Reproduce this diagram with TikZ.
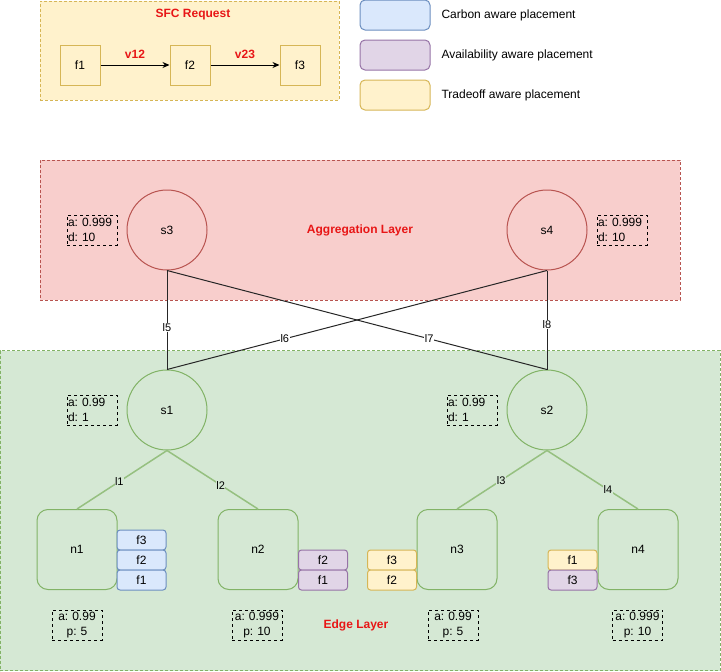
\documentclass[tikz,border=0pt]{standalone}
\usepackage{fontspec}
\setmainfont{Liberation Sans}
\usetikzlibrary{arrows.meta}
\definecolor{yfill}{HTML}{FFF2CC}\definecolor{ydraw}{HTML}{D6B656}
\definecolor{bfill}{HTML}{DAE8FC}\definecolor{bdraw}{HTML}{6C8EBF}
\definecolor{pfill}{HTML}{E1D5E7}\definecolor{pdraw}{HTML}{9673A6}
\definecolor{rfill}{HTML}{F8CECC}\definecolor{rdraw}{HTML}{B85450}
\definecolor{gfill}{HTML}{D5E8D4}\definecolor{gdraw}{HTML}{82B366}
\definecolor{gline}{RGB}{150,192,128}
\definecolor{titlered}{RGB}{232,22,22}
\tikzset{
  txt/.style={font=\fontsize{12}{15}\selectfont\frenchspacing},
  title/.style={font=\fontsize{12}{15}\selectfont\bfseries, text=titlered},
  layer/.style={draw, line width=0.8pt, dash pattern=on 3pt off 2pt},
  fbox/.style={txt, draw=ydraw, fill=yfill, line width=1pt, minimum width=40pt, minimum height=40pt, inner sep=0pt},
  legbox/.style={draw, line width=1pt, rounded corners=5pt, minimum width=70pt, minimum height=30pt, inner sep=0pt},
  sw/.style={txt, circle, line width=1pt, minimum size=80pt, inner sep=0pt},
  srv/.style={txt, draw=gdraw, fill=gfill, rounded corners=11pt, line width=1pt, minimum size=80pt, inner sep=0pt, anchor=south},
  vnf/.style={txt, draw, rounded corners=3pt, line width=1pt, minimum width=49pt, minimum height=20pt, inner sep=0pt},
  infol/.style={txt, draw, dashed, line width=0.9pt, text width=48pt, minimum height=30pt, inner sep=1pt, align=left},
  infoc/.style={txt, draw, dashed, line width=0.9pt, text width=48pt, minimum height=30pt, inner sep=1pt, align=center},
  aline/.style={line width=1pt, black!85},
  gl/.style={line width=1.5pt, gline},
  elab/.style={font=\fontsize{11}{13}\selectfont, text=black, inner sep=0.5pt},
}
\begin{document}
\begin{tikzpicture}[x=1pt,y=-1pt]
\useasboundingbox (0,0) rectangle (721,672);
% SFC request
\node[layer, draw=ydraw, fill=yfill, minimum width=299pt, minimum height=99pt, inner sep=0pt] (sfc) at (189.5,50.5) {};
\node[title] (sfct) at (193,15) {SFC Request};
\node[fbox] (f1) at (80,65) {f1};
\node[fbox] (f2) at (190,65) {f2};
\node[fbox] (f3) at (300,65) {f3};
\draw[line width=1pt, -{Stealth[length=7pt,width=6pt]}] (f1) -- node[title, above=3pt] {v12} (f2);
\draw[line width=1pt, -{Stealth[length=7pt,width=6pt]}] (f2) -- node[title, above=3pt] {v23} (f3);
% legend
\node[legbox, draw=bdraw, fill=bfill] (lg1) at (395,15) {};
\node[legbox, draw=pdraw, fill=pfill] (lg2) at (395,55) {};
\node[legbox, draw=ydraw, fill=yfill] (lg3) at (395,95) {};
\node[txt, anchor=west] (lt1) at (438,15) {Carbon aware placement};
\node[txt, anchor=west] (lt2) at (438,55) {Availability aware placement};
\node[txt, anchor=west] (lt3) at (438,95) {Tradeoff aware placement};
% layers
\node[layer, draw=gdraw, fill=gfill, minimum width=720pt, minimum height=320pt, inner sep=0pt] (edge) at (360,510.5) {};
\node[layer, draw=rdraw, fill=rfill, minimum width=640pt, minimum height=140pt, inner sep=0pt] (agg) at (360,230) {};
\node[title] (aggt) at (360,230) {Aggregation Layer};
\node[title] (edget) at (356,625) {Edge Layer};
% switches
\node[sw, draw=rdraw, fill=rfill] (s3) at (167,230) {s3};
\node[sw, draw=rdraw, fill=rfill] (s4) at (547,230) {s4};
\node[sw, draw=gdraw, fill=gfill] (s1) at (167,410) {s1};
\node[sw, draw=gdraw, fill=gfill] (s2) at (547,410) {s2};
\node[infol] (i3) at (92,230) {a: 0.999\\d: 10};
\node[infol] (i4) at (622,230) {a: 0.999\\d: 10};
\node[infol] (i1) at (92,410) {a: 0.99\\d: 1};
\node[infol] (i2) at (472,410) {a: 0.99\\d: 1};
% servers
\node[srv] (n1) at (77,590) {n1};
\node[srv] (n2) at (258,590) {n2};
\node[srv] (n3) at (457,590) {n3};
\node[srv] (n4) at (638,590) {n4};
\node[infoc] (in1) at (77,625) {a: 0.99\\p: 5};
\node[infoc] (in2) at (257,625) {a: 0.999\\p: 10};
\node[infoc] (in3) at (453,625) {a: 0.99\\p: 5};
\node[infoc] (in4) at (637.5,625) {a: 0.999\\p: 10};
% VNF stacks
\node[vnf, draw=bdraw, fill=bfill] (n1f3) at (141.5,540) {f3};
\node[vnf, draw=bdraw, fill=bfill] (n1f2) at (141.5,560) {f2};
\node[vnf, draw=bdraw, fill=bfill] (n1f1) at (141.5,580) {f1};
\node[vnf, draw=pdraw, fill=pfill] (n2f2) at (323,560) {f2};
\node[vnf, draw=pdraw, fill=pfill] (n2f1) at (323,580) {f1};
\node[vnf, draw=ydraw, fill=yfill] (n3f3) at (392,560) {f3};
\node[vnf, draw=ydraw, fill=yfill] (n3f2) at (392,580) {f2};
\node[vnf, draw=ydraw, fill=yfill] (n4f1) at (572.5,560) {f1};
\node[vnf, draw=pdraw, fill=pfill] (n4f3) at (572.5,580) {f3};
% aggregation links
\draw[aline] (s3.south) -- node[elab, fill=white, pos=0.58] {l5} (s1.north);
\draw[aline] (s4.south) -- node[elab, fill=white, pos=0.69] {l6} (s1.north);
\draw[aline] (s3.south) -- node[elab, fill=white, pos=0.69] {l7} (s2.north);
\draw[aline] (s4.south) -- node[elab, fill=white, pos=0.55] {l8} (s2.north);
% edge links
\draw[gl] (s1.south) -- node[elab, fill=gfill, pos=0.53] {l1} (n1.north);
\draw[gl] (s1.south) -- node[elab, fill=gfill, pos=0.59] {l2} (n2.north);
\draw[gl] (s2.south) -- node[elab, fill=gfill, pos=0.51] {l3} (n3.north);
\draw[gl] (s2.south) -- node[elab, fill=gfill, pos=0.67] {l4} (n4.north);
\end{tikzpicture}
\end{document}
